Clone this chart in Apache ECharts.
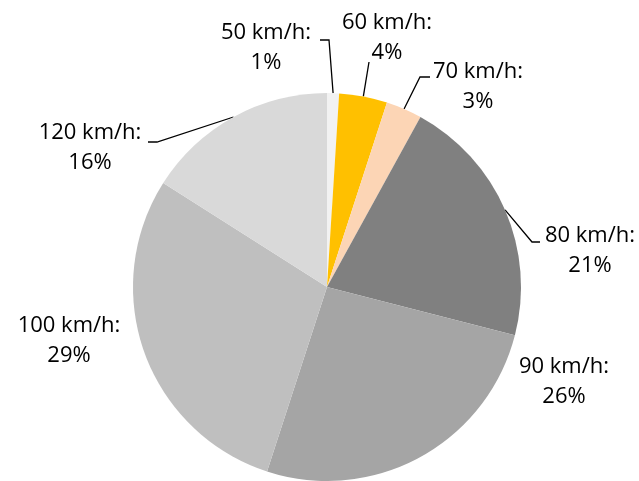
<!DOCTYPE html>
<html>
<head>
<meta charset="utf-8">
<script src="https://cdn.jsdelivr.net/npm/echarts@6/dist/echarts.min.js"></script>
<style>
  html, body { margin: 0; padding: 0; background: #fff; }
  #chart { width: 639px; height: 481px; }
</style>
</head>
<body>
<div id="chart"></div>
<script>
// Speed classes and their share of the total (percent)
const categories = ['50 km/h', '60 km/h', '70 km/h', '80 km/h', '90 km/h', '100 km/h', '120 km/h'];
const shares = [1, 4, 3, 21, 26, 29, 16];
const sliceColors = ['#F2F2F2', '#FFC000', '#FCD5B5', '#808080', '#A5A5A5', '#BFBFBF', '#D9D9D9'];

// Label block centres and leader-line elbows, in chart pixels
const labelSpots = [
  { x: 266, y: 48,  path: [[329, 40], [320, 40]] },
  { x: 387, y: 38,  path: [[369, 62]] },
  { x: 478, y: 87,  path: [[420, 77], [430, 77]] },
  { x: 590, y: 251, path: [[532, 242], [540, 242]] },
  { x: 564, y: 382, path: null },
  { x: 69,  y: 341, path: null },
  { x: 90,  y: 148, path: [[157, 142], [148, 142]] }
];

const chart = echarts.init(document.getElementById('chart'), null, { renderer: 'canvas' });

const data = categories.map((name, i) => ({
  name: name,
  value: shares[i],
  itemStyle: { color: sliceColors[i] },
  labelLine: { show: !!labelSpots[i].path }
}));

chart.setOption({
  animation: false,
  backgroundColor: '#ffffff',
  series: [{
    type: 'pie',
    center: [327, 287],
    radius: 194,
    startAngle: 90,
    clockwise: true,
    avoidLabelOverlap: false,
    data: data,
    itemStyle: { borderWidth: 0 },
    label: {
      show: true,
      position: 'outside',
      formatter: p => p.name + ':\n' + p.value + '%',
      color: '#000000',
      fontFamily: 'Open Sans',
      fontSize: 22,
      lineHeight: 30
    },
    labelLine: {
      show: true,
      length: 20,
      length2: 10,
      lineStyle: { color: '#000000', width: 1.3 }
    },
    labelLayout: function (params) {
      const spot = labelSpots[params.dataIndex];
      const out = { x: spot.x, y: spot.y, align: 'center', verticalAlign: 'middle' };
      if (spot.path && params.labelLinePoints) {
        out.labelLinePoints = [params.labelLinePoints[0]].concat(spot.path);
      }
      return out;
    },
    emphasis: { disabled: true }
  }]
});
</script>
</body>
</html>
